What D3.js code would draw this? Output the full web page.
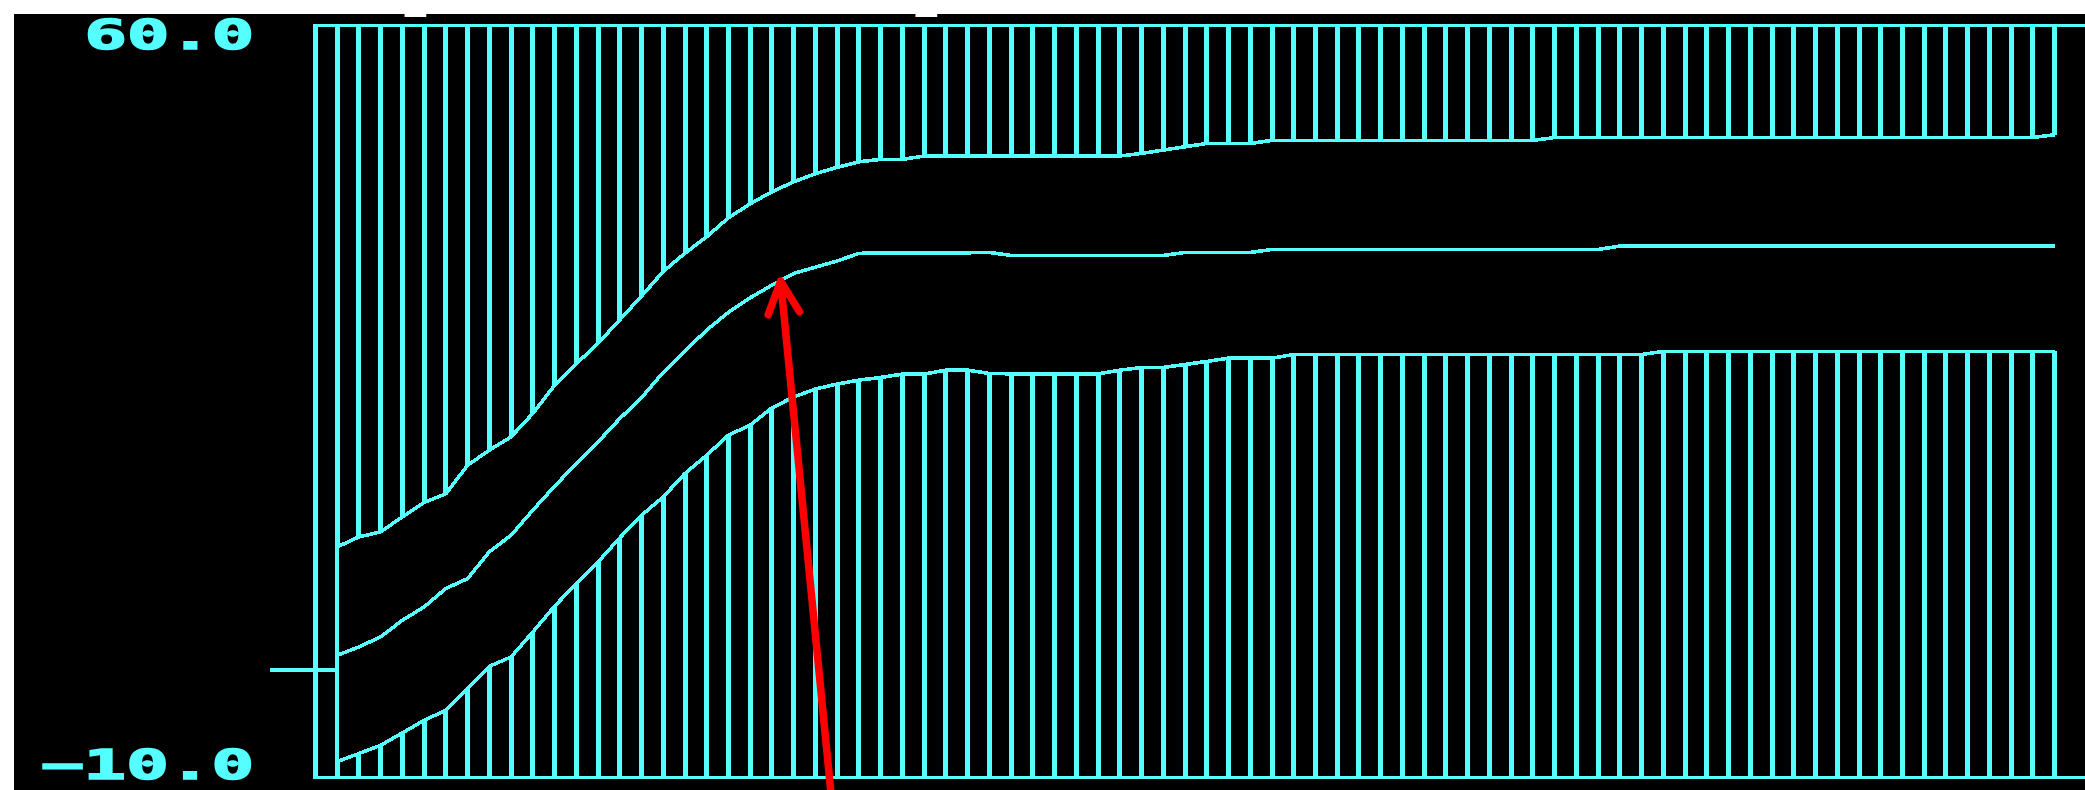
<!DOCTYPE html>
<html>
<head>
<meta charset="utf-8">
<script src="https://cdn.jsdelivr.net/npm/d3@7"></script>
<style>
    body { margin: 0; background: #fff; }
    #trace-area { width: 2085px; height: 790px; }
</style>
</head>
<body>
<div id="trace-area"></div>
<script>

// upper limit, estimate and lower limit, one value per sample step (steps 1..80)
const upperLimit = [
    11.45, 12.38, 12.85, 14.25, 15.59, 16.4, 19.06, 20.46, 21.7, 23.88,
    26.5, 28.5, 30.4, 32.6, 34.8, 37.1, 38.8, 40.33, 42.1, 43.4,
    44.52, 45.45, 46.2, 46.8, 47.31, 47.53, 47.53, 47.85, 47.85, 47.85,
    47.85, 47.85, 47.85, 47.85, 47.85, 47.85, 47.85, 48.09, 48.4, 48.71,
    49.02, 49.02, 49.02, 49.3, 49.3, 49.3, 49.3, 49.3, 49.3, 49.3,
    49.3, 49.3, 49.3, 49.3, 49.3, 49.3, 49.57, 49.57, 49.57, 49.57,
    49.57, 49.57, 49.57, 49.57, 49.57, 49.57, 49.57, 49.57, 49.57, 49.57,
    49.57, 49.57, 49.57, 49.57, 49.57, 49.57, 49.57, 49.57, 49.57, 49.83
];

const estimate = [
    1.36, 2.14, 3.07, 4.62, 5.86, 7.58, 8.5, 10.99, 12.54, 14.87,
    17.1, 19.2, 21.23, 23.4, 25.35, 27.7, 29.7, 31.64, 33.3, 34.65,
    35.83, 36.92, 37.5, 38.08, 38.78, 38.84, 38.84, 38.84, 38.84, 38.84,
    38.87, 38.59, 38.59, 38.59, 38.59, 38.59, 38.59, 38.59, 38.59, 38.87,
    38.87, 38.87, 38.87, 39.15, 39.15, 39.15, 39.15, 39.15, 39.15, 39.15,
    39.15, 39.15, 39.15, 39.15, 39.15, 39.15, 39.15, 39.15, 39.15, 39.46,
    39.46, 39.46, 39.46, 39.46, 39.46, 39.46, 39.46, 39.46, 39.46, 39.46,
    39.46, 39.46, 39.46, 39.46, 39.46, 39.46, 39.46, 39.46, 39.46, 39.46
];

const lowerLimit = [
    -8.54, -7.79, -7.02, -5.87, -4.69, -3.76, -1.74, 0.34, 1.2, 3.53,
    5.93, 8.04, 10.05, 12.3, 14.4, 16.11, 18.29, 19.99, 21.86, 22.79,
    24.4, 25.42, 26.15, 26.62, 26.98, 27.23, 27.54, 27.54, 27.91, 27.91,
    27.6, 27.57, 27.57, 27.57, 27.57, 27.57, 27.91, 28.16, 28.16, 28.44,
    28.72, 29.03, 29.03, 29.03, 29.37, 29.37, 29.37, 29.37, 29.37, 29.37,
    29.37, 29.37, 29.37, 29.37, 29.37, 29.37, 29.37, 29.37, 29.37, 29.37,
    29.37, 29.65, 29.65, 29.65, 29.65, 29.65, 29.65, 29.65, 29.65, 29.65,
    29.65, 29.65, 29.65, 29.65, 29.65, 29.65, 29.65, 29.65, 29.65, 29.65
];

// level before the first step
const initTime = -2.1;
const initValue = 0;

// y range and its tick labels
const yDomain = [-10, 60];
const yTicks = [60, -10];

// red arrow: tip on the estimate, tail below the screen
const arrowTip = {t: 21.4, v: 36.2};
const arrowTail = {t: 23.7, v: -11.2};

// two small white marks on the upper border
const topMarks = [4.6, 28.1];


class TraceVis {

    constructor(parentElement) {
        this.parentElement = parentElement;
        this.initVis();
    }

    initVis() {
        let vis = this;

        vis.width = 2085;
        vis.height = 790;
        vis.screen = {left: 14, top: 14};
        vis.cyan = '#55ffff';

        vis.svg = d3.select('#' + vis.parentElement).append('svg')
            .attr('width', vis.width)
            .attr('height', vis.height)
            .style('display', 'block');

        // black screen
        vis.svg.append('rect')
            .attr('x', vis.screen.left)
            .attr('y', vis.screen.top)
            .attr('width', vis.width - vis.screen.left)
            .attr('height', vis.height - vis.screen.top)
            .attr('fill', '#000');

        vis.x = d3.scaleLinear()
            .domain([0, upperLimit.length])
            .range([315.4, 2054.7]);

        vis.y = d3.scaleLinear()
            .domain(yDomain)
            .range([777.3, 25.5]);

        // white marks on the border
        vis.svg.selectAll('.top-mark')
            .data(topMarks)
            .enter().append('rect')
            .attr('class', 'top-mark')
            .attr('x', d => vis.x(d - 0.5))
            .attr('y', vis.screen.top - 1)
            .attr('width', d => vis.x(d + 0.5) - vis.x(d - 0.5))
            .attr('height', 4)
            .attr('fill', '#fff');

        vis.wrangleData();
    }

    wrangleData() {
        let vis = this;

        vis.steps = upperLimit.map((d, i) => ({
            t: i + 1,
            up: d,
            est: estimate[i],
            low: lowerLimit[i]
        }));

        vis.updateVis();
    }

    updateVis() {
        let vis = this;
        let top = yDomain[1], bottom = yDomain[0];

        let plot = vis.svg.append('g')
            .attr('stroke', vis.cyan)
            .attr('fill', 'none')
            .attr('shape-rendering', 'crispEdges');

        // frame
        plot.append('line')
            .attr('x1', vis.x(0) - 2).attr('x2', vis.width)
            .attr('y1', vis.y(top)).attr('y2', vis.y(top))
            .attr('stroke-width', 3.5);
        plot.append('line')
            .attr('x1', vis.x(0) - 2).attr('x2', vis.width)
            .attr('y1', vis.y(bottom)).attr('y2', vis.y(bottom))
            .attr('stroke-width', 3);
        plot.append('line')
            .attr('x1', vis.x(0)).attr('x2', vis.x(0))
            .attr('y1', vis.y(top)).attr('y2', vis.y(bottom))
            .attr('stroke-width', 4.5);

        // bars hanging from the top down to the upper limit
        plot.selectAll('.bar-up')
            .data(vis.steps)
            .enter().append('line')
            .attr('class', 'bar-up')
            .attr('x1', d => vis.x(d.t)).attr('x2', d => vis.x(d.t))
            .attr('y1', vis.y(top)).attr('y2', d => vis.y(d.up))
            .attr('stroke-width', 5);

        // bars standing from the bottom up to the lower limit
        plot.selectAll('.bar-low')
            .data(vis.steps)
            .enter().append('line')
            .attr('class', 'bar-low')
            .attr('x1', d => vis.x(d.t)).attr('x2', d => vis.x(d.t))
            .attr('y1', d => vis.y(d.low)).attr('y2', vis.y(bottom))
            .attr('stroke-width', 5);

        // the three traces
        let line = d3.line()
            .x(d => vis.x(d[0]))
            .y(d => vis.y(d[1]));

        ['up', 'est', 'low'].forEach(key => {
            let pts = [[initTime, initValue], [1, initValue]]
                .concat(vis.steps.map(d => [d.t, d[key]]));
            plot.append('path')
                .attr('d', line(pts))
                .attr('stroke-width', 3.6)
                .attr('stroke-linejoin', 'miter');
        });

        // tick labels
        let fmt = d3.format('.1f');
        let charW = 43.6;
        vis.svg.selectAll('.tick-label')
            .data(yTicks)
            .enter().append('text')
            .attr('class', 'tick-label')
            .text(d => fmt(d))
            .attr('x', d => 254 - (fmt(d).length * charW - 5))
            .attr('y', d => d === top ? vis.y(d) + 23.5 : vis.y(d) + 1.7)
            .attr('textLength', d => fmt(d).length * charW - 5)
            .attr('lengthAdjust', 'spacingAndGlyphs')
            .attr('fill', vis.cyan)
            .attr('stroke', vis.cyan)
            .attr('stroke-width', 1.5)
            .attr('font-family', 'DejaVu Sans Mono, monospace')
            .attr('font-weight', 'bold')
            .attr('font-size', 40);

        // red arrow
        let tip = [vis.x(arrowTip.t), vis.y(arrowTip.v)];
        let tail = [vis.x(arrowTail.t), vis.y(arrowTail.v)];
        let ang = Math.atan2(tail[1] - tip[1], tail[0] - tip[0]);
        let headLen = 36, spread = 26 * Math.PI / 180;
        let w1 = [tip[0] + headLen * Math.cos(ang - spread), tip[1] + headLen * Math.sin(ang - spread)];
        let w2 = [tip[0] + headLen * Math.cos(ang + spread), tip[1] + headLen * Math.sin(ang + spread)];

        vis.svg.append('path')
            .attr('d', `M${tail}L${tip}M${w1}L${tip}L${w2}`)
            .attr('fill', 'none')
            .attr('stroke', '#ff0000')
            .attr('stroke-width', 7.5)
            .attr('stroke-linecap', 'round')
            .attr('stroke-linejoin', 'round');
    }
}

new TraceVis('trace-area');

</script>
</body>
</html>
